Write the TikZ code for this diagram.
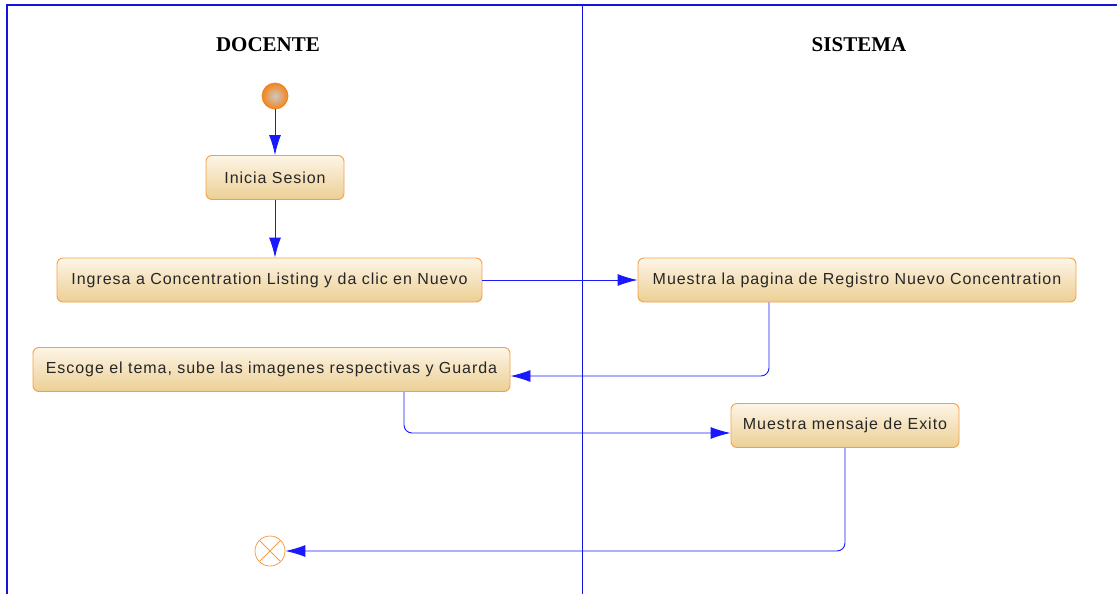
\documentclass[tikz,border=0pt]{standalone}
\usepackage{fontspec}
\setmainfont{Liberation Sans}
\newfontfamily\lanefont{Liberation Serif}
\newfontfamily\actfont[LetterSpace=6]{Liberation Sans}
\usepackage{tikz}
\usetikzlibrary{
  arrows.meta
}
\definecolor{laneblue}{RGB}{20,20,225}
\definecolor{flowblue}{RGB}{25,25,255}
\definecolor{actborder}{RGB}{247,158,72}
\definecolor{actlight}{RGB}{253,245,230}
\definecolor{actdark}{RGB}{236,207,148}
\definecolor{startcore}{RGB}{205,200,196}
\definecolor{startrim}{RGB}{242,133,28}
\tikzset{
  lane line/.style={
    draw=laneblue,
    line width=1.3pt
  },
  lane title/.style={
    font=\lanefont\bfseries\fontsize{21}{25}\selectfont
  },
  activity/.style={
    rectangle,
    rounded corners=6pt,
    draw=actborder,
    line width=0.9pt,
    top color=actlight,
    bottom color=actdark,
    minimum height=44pt,
    inner xsep=0pt,
    text=black!85,
    font=\actfont\fontsize{16}{19}\selectfont
  },
  flow/.style={
    draw=flowblue,
    line width=0.9pt,
    rounded corners=8pt,
    -{Latex[length=20pt,width=12pt]}
  },
  initial/.style={
    circle,
    draw=startrim,
    line width=0.8pt,
    minimum size=26pt,
    inner sep=0pt,
    shading=radial,
    inner color=startcore,
    outer color=startrim
  },
  final/.style={
    circle,
    draw=actborder,
    line width=0.8pt,
    minimum size=30pt,
    inner sep=0pt,
    path picture={
      \draw[actborder, line width=0.8pt]
        (path picture bounding box.north west) -- (path picture bounding box.south east)
        (path picture bounding box.north east) -- (path picture bounding box.south west);
    }
  }
}

\begin{document}
\begin{tikzpicture}[x=1pt, y=-1pt]
    \useasboundingbox (0,0) rectangle (1117,594);

    % ---------- carriles ----------
    \draw[lane line] (7,594) -- (7,5) -- (1117,5);
    \draw[lane line, line width=1pt] (582,5) -- (582,594);

    \node[lane title] (docente) at (268,45) {DOCENTE};
    \node[lane title] (sistema) at (859,45) {SISTEMA};

    % ---------- DOCENTE ----------
    \node[initial] (inicio) at (275,96) {};

    \node[activity, minimum width=138pt] (sesion)
      at (275,177.5) {Inicia Sesion};
    \node[activity, minimum width=425pt] (ingresa)
      at (269.5,280) {Ingresa a Concentration Listing y da clic en Nuevo};
    \node[activity, minimum width=477pt] (escoge)
      at (271.5,369.5) {Escoge el tema, sube las imagenes respectivas y Guarda};

    \node[final] (fin) at (270,551) {};

    % ---------- SISTEMA ----------
    \node[activity, minimum width=438pt] (registro)
      at (857,280) {Muestra la pagina de Registro Nuevo Concentration};
    \node[activity, minimum width=228pt] (exito)
      at (845,425.5) {Muestra mensaje de Exito};

    % ---------- flujo ----------
    \draw[flow] (inicio) -- (sesion);
    \draw[flow] (sesion.south) -- (sesion.south |- ingresa.north);
    \draw[flow] (ingresa) -- (registro);
    \draw[flow] ([xshift=-88pt]registro.south)
      |- ([yshift=-6.5pt]escoge.east);
    \draw[flow] ([xshift=132.5pt]escoge.south)
      |- ([yshift=-7.5pt]exito.west);
    \draw[flow] (exito) |- (fin);

\end{tikzpicture}
\end{document}
